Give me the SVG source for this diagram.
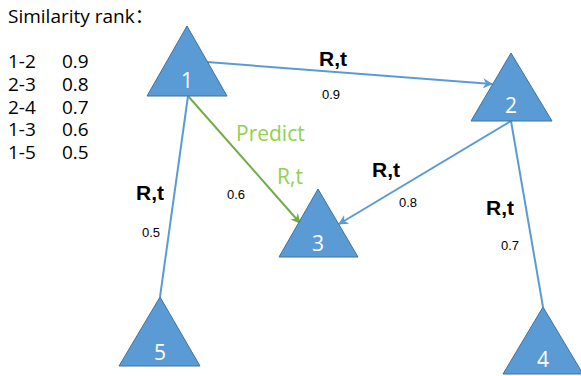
<svg xmlns="http://www.w3.org/2000/svg" width="581" height="376" viewBox="0 0 581 376">
<style>
.tri{fill:#5B9BD5;stroke:#41719C;stroke-width:1}
.tl{font-family:"Open Sans","Noto Sans",sans-serif;font-size:21px;fill:#fff;text-anchor:middle}
.bl{stroke:#5B9BD5;stroke-width:2;fill:none}
.gl{stroke:#70AD47;stroke-width:2;fill:none}
.rt{font-family:"Liberation Sans",Arial,sans-serif;font-weight:bold;font-size:21px;fill:#000}
.sm{font-family:"Liberation Sans",Arial,sans-serif;font-size:13px;fill:#000}
.lt{font-family:"Open Sans","Noto Sans","Noto Sans CJK SC",sans-serif;font-size:19px;fill:#000}
.gt{font-family:"Open Sans","Noto Sans",sans-serif;font-size:21px;fill:#92D050}
</style>
<defs>
<marker id="ab" viewBox="0 0 10 10" refX="9" refY="5" markerWidth="5" markerHeight="5" orient="auto" markerUnits="strokeWidth"><path d="M0,0 L10,5 L0,10 L3,5 z" fill="#5B9BD5"/></marker>
<marker id="ag" viewBox="0 0 10 10" refX="9" refY="5" markerWidth="5" markerHeight="5" orient="auto" markerUnits="strokeWidth"><path d="M0,0 L10,5 L0,10 L3,5 z" fill="#70AD47"/></marker>
</defs>
<rect width="581" height="376" fill="#fff"/>
<g id="legend">
<text class="lt" x="8" y="23">Similarity rank：</text>
<text class="lt" x="8" y="68">1-2</text><text class="lt" x="62" y="68">0.9</text>
<text class="lt" x="8" y="91">2-3</text><text class="lt" x="62" y="91">0.8</text>
<text class="lt" x="8" y="114">2-4</text><text class="lt" x="62" y="114">0.7</text>
<text class="lt" x="8" y="136">1-3</text><text class="lt" x="62" y="136">0.6</text>
<text class="lt" x="8" y="159">1-5</text><text class="lt" x="62" y="159">0.5</text>
</g>
<g id="connectors">
<line class="bl" x1="207" y1="62" x2="492" y2="84" marker-end="url(#ab)"/>
<line class="bl" x1="188" y1="96" x2="160" y2="297"/>
<line class="gl" x1="188" y1="96" x2="300" y2="223" marker-end="url(#ag)"/>
<line class="bl" x1="511" y1="121" x2="339" y2="224" marker-end="url(#ab)"/>
<line class="bl" x1="511" y1="121" x2="543" y2="307"/>
</g>
<g id="labels">
<text class="rt" x="319" y="66">R,t</text>
<text class="sm" x="322" y="99">0.9</text>
<text class="rt" x="136" y="200">R,t</text>
<text class="sm" x="142" y="237">0.5</text>
<text class="rt" x="372" y="177">R,t</text>
<text class="sm" x="399" y="207">0.8</text>
<text class="rt" x="486" y="215">R,t</text>
<text class="sm" x="501" y="250">0.7</text>
<text class="sm" x="227" y="199">0.6</text>
<text class="gt" x="236" y="141">Predict</text>
<text class="gt" x="277" y="184">R,t</text>
</g>
<g id="node1"><polygon class="tri" points="187,26 147,96 227,96"/><text class="tl" x="187" y="88">1</text></g>
<g id="node2"><polygon class="tri" points="511,53 471,121 552,121"/><text class="tl" x="511" y="113">2</text></g>
<g id="node3"><polygon class="tri" points="318,189 279,257 358,257"/><text class="tl" x="318" y="251">3</text></g>
<g id="node4"><polygon class="tri" points="543,307 503,374 583,374"/><text class="tl" x="543" y="367">4</text></g>
<g id="node5"><polygon class="tri" points="160,297 119,366 200,366"/><text class="tl" x="160" y="360">5</text></g>
</svg>
